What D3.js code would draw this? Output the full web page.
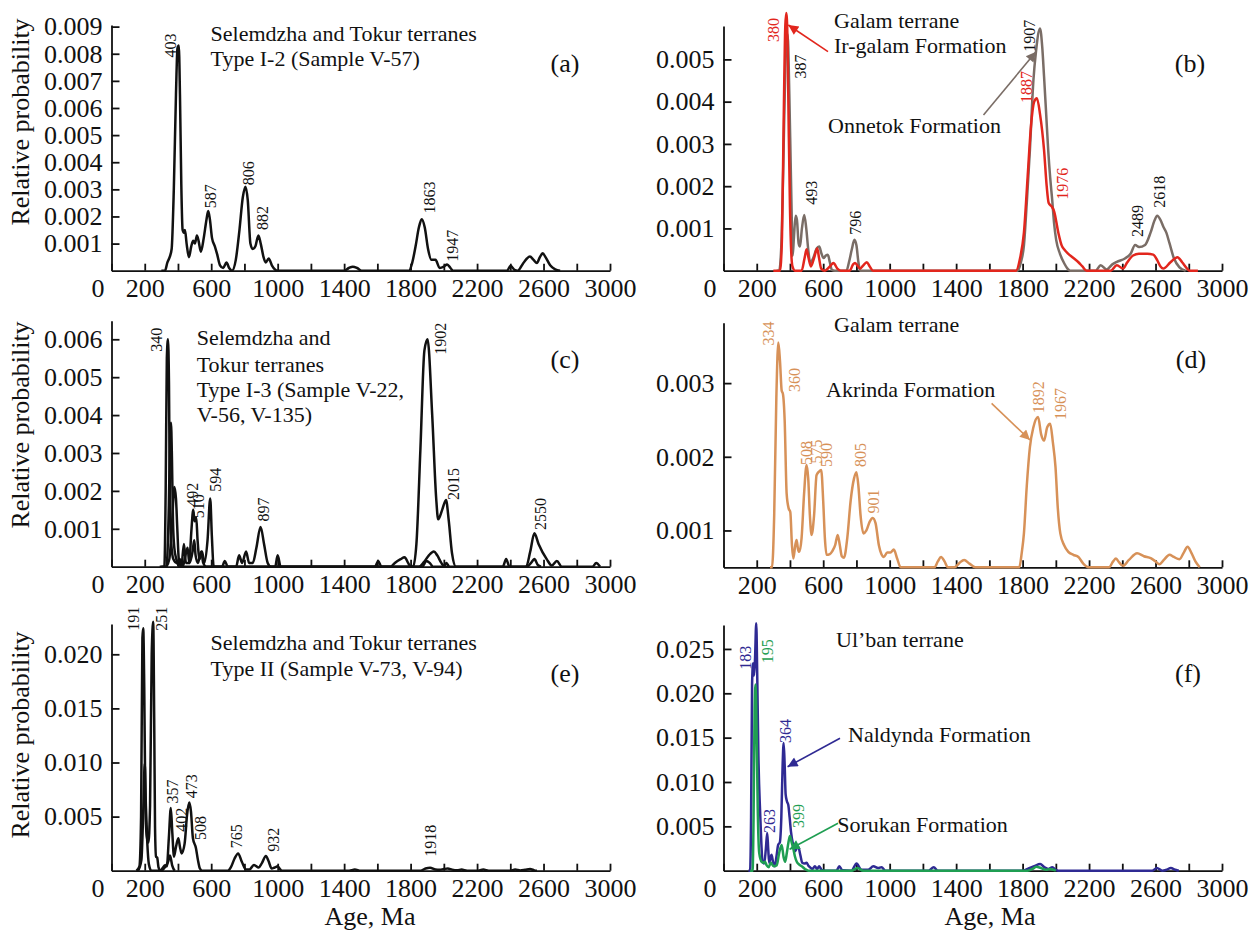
<!DOCTYPE html>
<html lang="en">
<head>
<meta charset="utf-8">
<title>Relative probability of detrital zircon ages</title>
<style>
  body { margin: 0; background: #fff; }
  svg text { font-family: "Liberation Serif", "Times New Roman", serif; fill: #111; }
  .axis path, .axis line { stroke: #111; stroke-width: 1.8; }
  .axis text { font-size: 26px; }
  .peak { font-size: 16px; }
  .note { font-size: 22px; }
  .letter { font-size: 26px; }
  .title { font-size: 26px; }
</style>
</head>
<body>
<svg id="chart" width="1250" height="931"></svg>
<script src="https://d3js.org/d3.v7.min.js"></script>
<script>
"use strict";

// x axis (age, Ma)
var ageTicks = [0, 200, 400, 600, 800, 1000, 1200, 1400, 1600, 1800, 2000, 2200, 2400, 2600, 2800, 3000];
var ageLabels = [0, 200, 600, 1000, 1400, 1800, 2200, 2600, 3000];

// y axis ticks per panel
var ticksA = [0.001, 0.002, 0.003, 0.004, 0.005, 0.006, 0.007, 0.008, 0.009];
var ticksB = [0.001, 0.002, 0.003, 0.004, 0.005];
var ticksC = [0.001, 0.002, 0.003, 0.004, 0.005, 0.006];
var ticksD = [0.001, 0.002, 0.003];
var ticksE = [0.005, 0.010, 0.015, 0.020];
var ticksF = [0.005, 0.010, 0.015, 0.020, 0.025];

// (a) Type I-2, sample V-57  [age, probability]
var curveA = [[300,0],[322,0],[336,0.0003],[350,0.0005],[362,0.0008],[375,0.003],[388,0.0065],[397,0.0082],[405,0.0083],[412,0.0065],[420,0.0032],[428,0.0015],[436,0.0014],[442,0.0015],[452,0.001],[466,0.0005],[480,0.0009],[492,0.0011],[502,0.001],[514,0.0013],[524,0.0011],[538,0.0007],[555,0.0012],[572,0.0019],[582,0.0022],[592,0.0019],[605,0.0012],[622,0.0009],[636,0.0006],[653,0.0002],[672,0.0001],[692,0.0003],[708,0.0001],[725,0],[748,0.0004],[770,0.0015],[790,0.0027],[806,0.0031],[820,0.0026],[836,0.001],[850,0.0008],[866,0.0009],[884,0.0013],[898,0.001],[915,0.0005],[928,0.0003],[946,0.00045],[965,0.0002],[1000,0],
  [1400,0],[1428,0.0001],[1452,0.00015],[1478,0.0001],[1505,0],
  [1790,0],[1810,0.0003],[1830,0.0009],[1850,0.0016],[1867,0.0019],[1885,0.0016],[1905,0.0008],[1925,0.0004],[1950,0.0004],[1975,0.0001],[2000,0.00015],[2020,0.00023],[2040,0.0001],[2055,0],
  [2380,0],[2402,0.00018],[2425,0.00003],[2445,0],[2475,0.00025],[2500,0.00045],[2518,0.00052],[2540,0.0004],[2560,0.00028],[2578,0.0005],[2595,0.00064],[2612,0.0005],[2640,0.0002],[2670,0.00005],[2700,0]];
var peaksA = [["403",357,0.00786],["587",597,0.0023],["806",824,0.00315],["882",907,0.0015],["1863",1912,0.00211],["1947",2051,0.00033]];

// (b) Galam terrane: Ir-galam Fm (red), Onnetok Fm (grey)
var irgalam = [[300,0],[340,0],[352,0.0008],[362,0.0035],[372,0.0058],[378,0.0061],[385,0.0055],[392,0.0035],[400,0.0015],[408,0.0004],[415,0.0001],[430,0],[470,0],[488,0.0003],[500,0.00051],[512,0.0003],[526,0.0001],[545,0.0003],[564,0.00053],[575,0.0003],[588,0.00005],[610,0],[640,0.0001],[662,0.00018],[685,0.00005],[705,0],[760,0],[780,0.00015],[792,0.00018],[810,0.0001],[822,0.00005],[840,0.00012],[862,0.0002],[880,0.0001],[900,0],
  [1760,0],[1785,0.0003],[1808,0.0009],[1830,0.0022],[1850,0.0034],[1870,0.004],[1886,0.00408],[1905,0.0037],[1929,0.00286],[1945,0.002],[1957,0.0016],[1975,0.00152],[1990,0.0014],[2015,0.0009],[2035,0.0006],[2051,0.0005],[2075,0.0004],[2100,0.00032],[2136,0.0002],[2160,0.0001],[2185,0],
  [2330,0],[2367,0.00013],[2404,0.00005],[2430,0.0002],[2465,0.00036],[2500,0.0004],[2550,0.0004],[2586,0.00038],[2610,0.00025],[2630,0.0001],[2647,0.00005],[2690,0.0002],[2732,0.00032],[2760,0.0002],[2790,0.00005],[2805,0],[2855,0]];
var onnetok = [[320,0],[335,0],[348,0.0006],[360,0.0025],[372,0.0048],[386,0.0056],[396,0.0042],[404,0.0026],[410,0.0014],[416,0.00035],[424,0.0008],[434,0.0013],[442,0.0012],[452,0.00065],[460,0.00057],[472,0.001],[486,0.00132],[498,0.001],[510,0.0005],[522,0.00018],[540,0.0003],[560,0.00052],[576,0.00057],[590,0.0004],[602,0.0003],[616,0.00036],[628,0.00038],[640,0.0002],[652,0.00002],[670,0],[740,0],[755,0.0002],[772,0.0005],[788,0.00073],[800,0.0006],[812,0.0002],[822,0],
  [1770,0],[1790,0.0002],[1808,0.0006],[1825,0.0016],[1844,0.00286],[1865,0.0045],[1881,0.0052],[1905,0.00573],[1918,0.0053],[1929,0.0046],[1942,0.0037],[1954,0.00286],[1966,0.0022],[1978,0.00168],[1990,0.0011],[2002,0.00073],[2025,0.0004],[2051,0.00017],[2070,0.00005],[2087,0],
  [2240,0],[2270,0.00013],[2306,0.00003],[2340,0.00015],[2367,0.00021],[2416,0.00029],[2450,0.0004],[2477,0.00061],[2501,0.00056],[2537,0.00061],[2570,0.0009],[2595,0.0012],[2610,0.0013],[2630,0.0012],[2647,0.00104],[2665,0.0009],[2684,0.00065],[2710,0.0003],[2744,0.00008],[2781,0]];
var peaksB = [["380",298,0.00541,"red"],["387",465,0.00455],["493",531,0.00156],["796",791,0.00085],["1907",1838,0.00518],["1887",1820,0.00397,"red"],["1976",2037,0.00168,"red"],["2489",2488,0.0008],["2618",2621,0.00149]];

// (c) Type I-3, samples V-22, V-56, V-135
var curveC1 = [[290,0],[318,0],[326,0.002],[333,0.0055],[340,0.006],[346,0.0048],[352,0.0015],[360,0.0006],[372,0.0002],[392,0.0001],[410,0.0002],[428,0],[445,0.0003],[458,0.0005],[468,0.0001],[480,0.0009],[492,0.0015],[500,0.0012],[510,0.0013],[518,0.0007],[530,0.0002],[545,0.0004],[558,0.0001],[578,0.0007],[594,0.0018],[604,0.0008],[615,0],[665,0],[682,0.00015],[700,0],[750,0],[768,0.0003],[786,0.0001],[810,0.0004],[828,0.0001],[850,0.0001],[872,0.0005],[897,0.00105],[918,0.0006],[940,0.0001],[960,0],[985,0],[1000,0.0003],[1018,0],
  [1585,0],[1605,0.00015],[1625,0],
  [1815,0],[1835,0.0006],[1859,0.0031],[1883,0.0057],[1902,0.006],[1930,0.004],[1954,0.0018],[1966,0.00125],[1990,0.0015],[2013,0.00176],[2030,0.0012],[2049,0.00036],[2073,0],
  [2355,0],[2375,0.0002],[2395,0],[2495,0],[2520,0.0004],[2545,0.00088],[2570,0.0006],[2619,0.0002],[2650,0.00003],[2680,0.00015],[2710,0],[2895,0],[2917,0.0001],[2940,0]];
var curveC2 = [[300,0],[330,0],[345,0.0016],[352,0.0033],[358,0.0038],[364,0.0028],[370,0.0012],[378,0.0005],[390,0.0002],[410,0],
  [1680,0],[1705,0.0001],[1740,0.0002],[1764,0.00025],[1785,0.0001],[1800,0],
  [1850,0],[1880,0.00012],[1910,0.0003],[1940,0.0004],[1960,0.0003],[1985,0.0001],[2005,0],
  [2500,0],[2525,0.0001],[2545,0.0002],[2565,0.00005],[2585,0]];
var curveC3 = [[330,0],[348,0.0002],[365,0.0012],[378,0.0021],[388,0.0018],[396,0.001],[405,0.0002],[420,0],[436,0.0006],[448,0.0001],[470,0.0001],[488,0.0004],[498,0.0007],[506,0.0003],[520,0.0001],[540,0.0004],[552,0.0001],[570,0],
  [1870,0],[1895,0.00015],[1915,0.0001],[1935,0],[2000,0],[2015,0.0001],[2030,0]];
var peaksC = [["340",272,0.00567],["492",485,0.00158],["510",525,0.00128],["594",628,0.00198],["897",915,0.00119],["1902",1977,0.00559],["2015",2055,0.00176],["2550",2581,0.00097]];

// (d) Galam terrane, Akrinda Formation
var akrinda = [[280,0.0005],[292,0.0005],[305,0.0012],[318,0.0028],[330,0.00355],[340,0.0033],[350,0.0029],[358,0.00285],[368,0.0025],[380,0.0015],[392,0.0013],[402,0.00125],[412,0.0008],[420,0.00062],[432,0.0008],[440,0.00087],[448,0.00075],[456,0.00071],[470,0.0009],[485,0.0015],[500,0.00189],[510,0.0017],[520,0.0012],[530,0.00094],[545,0.0012],[560,0.00175],[575,0.0018],[588,0.00182],[600,0.0014],[610,0.0009],[620,0.00067],[640,0.00068],[655,0.00072],[672,0.0008],[687,0.00094],[700,0.0008],[712,0.00065],[725,0.00063],[745,0.0009],[765,0.0014],[785,0.0017],[800,0.00179],[812,0.0016],[825,0.0012],[842,0.00096],[860,0.001],[880,0.00112],[898,0.00117],[915,0.0011],[935,0.0008],[950,0.00068],[965,0.00064],[985,0.0007],[1005,0.0007],[1025,0.00074],[1045,0.00062],[1066,0.0005],
  [1270,0.0005],[1290,0.00058],[1309,0.00064],[1330,0.00058],[1350,0.0005],[1390,0.0005],[1420,0.00056],[1448,0.0006],[1480,0.00055],[1516,0.0005],
  [1780,0.0005],[1795,0.0007],[1808,0.00096],[1825,0.0016],[1844,0.00213],[1865,0.0024],[1893,0.00254],[1912,0.0023],[1929,0.00222],[1948,0.0024],[1966,0.00245],[1982,0.0022],[1998,0.00186],[2012,0.0013],[2027,0.00096],[2050,0.0008],[2075,0.00071],[2105,0.00067],[2136,0.00064],[2165,0.00055],[2197,0.0005],
  [2320,0.0005],[2345,0.00058],[2362,0.00062],[2380,0.00057],[2404,0.00052],[2440,0.0006],[2489,0.00069],[2530,0.00065],[2574,0.00062],[2600,0.00058],[2623,0.00054],[2650,0.0006],[2684,0.00067],[2710,0.00064],[2744,0.00061],[2770,0.0007],[2793,0.00078],[2815,0.0007],[2840,0.00058],[2866,0.0005]];
var peaksD = [["334",270,0.00351],["360",424,0.00288],["508",500,0.00189],["575",561,0.00191],["590",621,0.00186],["805",821,0.00186],["901",901,0.00123],["1892",1898,0.00259],["1967",2025,0.0025]];

// (e) Type II, samples V-73, V-94
var curveE1 = [[150,0],[168,0.0004],[178,0.005],[186,0.0215],[191,0.0224],[197,0.017],[204,0.006],[212,0.0032],[222,0.0026],[232,0.006],[242,0.02],[251,0.023],[257,0.014],[262,0.004],[268,0.0013],[275,0.0012],[283,0.0003],[295,0],[310,0.0003],[322,0.0005],[333,0.0004],[345,0.003],[357,0.0058],[366,0.0035],[376,0.0013],[388,0.0022],[402,0.003],[412,0.0022],[422,0.0016],[440,0.0025],[455,0.0052],[468,0.0063],[478,0.0055],[490,0.003],[508,0.0021],[520,0.001],[532,0.0002],[545,0],
  [700,0],[718,0.0003],[740,0.0011],[762,0.0016],[785,0.0008],[810,0.0001],[830,0.0001],[857,0.00053],[886,0.0003],[905,0.0007],[929,0.00136],[945,0.0009],[964,0.0002],[982,0.0003],[1000,0.0004],[1012,0.0002],[1025,0],
  [1430,0],[1464,0.0001],[1500,0],[1860,0],[1890,0.0002],[1917,0.00028],[1950,0.0001],[1975,0.00008],[2000,0.00015],[2024,0.0002],[2050,0.0001],[2080,0.00005],[2107,0.0001],[2140,0],[2200,0],[2238,0.0001],[2270,0],[2400,0],[2429,0.0001],[2460,0.00002],[2490,0.00008],[2519,0.00015],[2545,0.00003],[2560,0]];
var curveE2 = [[160,0],[180,0.001],[192,0.006],[200,0.0099],[207,0.006],[215,0.0027],[225,0.0006],[240,0],[300,0],[320,0.0003],[340,0.0008],[352,0.0014],[365,0.0005],[380,0]];
var peaksE = [["191",131,0.02217],["251",302,0.02217],["357",364,0.00622],["402",418,0.0036],["473",480,0.00669],["508",532,0.00284],["765",753,0.00207],["932",972,0.00175],["1918",1922,0.0013]];

// (f) Ul'ban terrane: Naldynda Fm (navy), Sorukan Fm (green)
var naldynda = [[150,0],[160,0],[166,0.006],[172,0.021],[178,0.0234],[184,0.022],[190,0.024],[197,0.0279],[203,0.022],[210,0.013],[221,0.0063],[228,0.003],[235,0.001],[245,0.0008],[255,0.0025],[263,0.00425],[269,0.0025],[275,0.0009],[282,0.0014],[289,0.0018],[298,0.001],[309,0.0005],[318,0.0015],[329,0.0029],[339,0.0032],[348,0.006],[356,0.012],[362,0.0144],[368,0.012],[374,0.0086],[382,0.0078],[390,0.0074],[398,0.006],[406,0.0044],[418,0.003],[430,0.0022],[440,0.0025],[450,0.0027],[462,0.0018],[474,0.0009],[488,0.0008],[500,0.0009],[510,0.0006],[520,0.0004],[535,0.0002],[550,0.0005],[563,0.0002],[576,0.0005],[590,0.0001],[610,0],[680,0],[697,0.0005],[715,0.00005],[770,0],[801,0.0008],[830,0.0001],[870,0.0001],[902,0.0005],[930,0.0003],[951,0.0004],[975,0],
  [1235,0],[1265,0.0004],[1290,0],[1800,0],[1830,0.0002],[1870,0.0005],[1906,0.00075],[1930,0.0004],[1955,0.0002],[1979,0.0004],[2000,0.0001],[2015,0],
  [2580,0],[2608,0.0003],[2640,0],[2665,0.0001],[2692,0.0003],[2720,0.0001],[2740,0]];
var sorukan = [[160,0],[175,0],[181,0.006],[187,0.018],[193,0.021],[199,0.016],[206,0.007],[215,0.002],[230,0.001],[240,0.0009],[250,0.001],[260,0.0006],[272,0.0004],[285,0.0009],[301,0.0005],[320,0.0006],[335,0.002],[350,0.0029],[362,0.0015],[371,0.001],[381,0.002],[391,0.0032],[400,0.0039],[410,0.0032],[420,0.0025],[430,0.0016],[441,0.001],[455,0.0007],[471,0.0005],[490,0.0002],[511,0],[770,0],[806,0.0003],[840,0],[1830,0],[1860,0.0002],[1882,0.00045],[1910,0.0003],[1942,0.0001],[1965,0.0002],[1985,0.0001],[2000,0]];
var peaksF = [["183",129,0.02266,"navy"],["195",262,0.0234,"green"],["364",372,0.0144,"navy"],["263",278,0.00425,"navy"],["399",450,0.0048,"green"]];

var COL = { black: "#111111", red: "#e2261d", grey: "#7a6d66", tan: "#d79158", navy: "#2f2a93", green: "#1f9e52" };

var svg = d3.select("#chart");
svg.append("rect").attr("width", 1250).attr("height", 931).attr("fill", "#fff");

var defs = svg.append("defs");
["red", "grey", "tan", "navy", "green"].forEach(function(k) {
  defs.append("marker")
    .attr("id", "arr-" + k)
    .attr("viewBox", "0 0 10 10")
    .attr("refX", 10).attr("refY", 5)
    .attr("markerUnits", "userSpaceOnUse")
    .attr("markerWidth", 15).attr("markerHeight", 10)
    .attr("orient", "auto")
    .append("path").attr("d", "M0,0 L10,5 L0,10 Z").attr("fill", COL[k]);
});

var panels = [
  { left: 111.5, right: 610, top: 25, bottom: 270.7, ymin: 0, ymax: 0.00906, yTicks: ticksA, zero: true,
    series: [{ d: curveA, c: "black" }], peaks: peaksA, peakCol: "black",
    notes: [["Selemdzha and Tokur terranes", 210.6, 40.7], ["Type I-2 (Sample V-57)", 210.6, 65.7]],
    letter: ["(a)", 565, 72], ytitle: 122 },
  { left: 723.5, right: 1222, top: 26, bottom: 270.7, ymin: 0, ymax: 0.00579, yTicks: ticksB, zero: true,
    series: [{ d: onnetok, c: "grey" }, { d: irgalam, c: "red" }], peaks: peaksB, peakCol: "black",
    notes: [["Galam terrane", 834, 28.3], ["Ir-galam Formation", 834, 53.3], ["Onnetok Formation", 828, 133.3]],
    arrows: [[828, 51.7, 788.3, 25, "red"], [983.5, 115, 1036, 51.7, "grey"]],
    letter: ["(b)", 1190, 71.7] },
  { left: 111.5, right: 610, top: 320.7, bottom: 566.7, ymin: 0, ymax: 0.00649, yTicks: ticksC, zero: true,
    series: [{ d: curveC3, c: "black" }, { d: curveC2, c: "black" }, { d: curveC1, c: "black" }], peaks: peaksC, peakCol: "black",
    notes: [["Selemdzha and", 196.7, 345], ["Tokur terranes", 196.7, 371.7], ["Type I-3 (Sample V-22,", 196.7, 396.7], ["V-56, V-135)", 196.7, 421.7]],
    letter: ["(c)", 565, 368.3], ytitle: 425 },
  { left: 723.5, right: 1222, top: 322.7, bottom: 567.3, ymin: 0.0005, ymax: 0.00382, yTicks: ticksD, zero: false,
    series: [{ d: akrinda, c: "tan" }], peaks: peaksD, peakCol: "tan",
    notes: [["Galam terrane", 834, 331.7], ["Akrinda Formation", 826, 396.7]],
    arrows: [[991.6, 403.3, 1030, 440, "tan"]],
    letter: ["(d)", 1191, 368.3] },
  { left: 111.5, right: 610, top: 624, bottom: 870.7, ymin: 0, ymax: 0.0228, yTicks: ticksE, zero: true,
    series: [{ d: curveE2, c: "black" }, { d: curveE1, c: "black" }], peaks: peaksE, peakCol: "black",
    notes: [["Selemdzha and Tokur terranes", 210.6, 650], ["Type II (Sample V-73, V-94)", 210.6, 676]],
    letter: ["(e)", 565, 681.7], ytitle: 735, xtitle: 370 },
  { left: 723.5, right: 1222, top: 625, bottom: 870.7, ymin: 0, ymax: 0.0277, yTicks: ticksF, zero: true,
    series: [{ d: naldynda, c: "navy" }, { d: sorukan, c: "green" }], peaks: peaksF, peakCol: "navy",
    notes: [["Ul\u2019ban terrane", 836, 646.7], ["Naldynda Formation", 848, 741.7], ["Sorukan Formation", 837.3, 831.7]],
    arrows: [[840, 738.3, 787.6, 766.7, "navy"], [838, 823.3, 789.6, 849.3, "green"]],
    letter: ["(f)", 1188, 681.7], xtitle: 990 }
];

panels.forEach(drawPanel);

function drawPanel(p) {
  var x = d3.scaleLinear().domain([0, 3000]).range([p.left, p.right]);
  var y = d3.scaleLinear().domain([p.ymin, p.ymax]).range([p.bottom, p.top]);
  var g = svg.append("g");

  var xa = g.append("g").attr("class", "axis")
    .attr("transform", "translate(0," + p.bottom + ")")
    .call(d3.axisBottom(x).tickValues(ageTicks).tickSize(-7).tickSizeOuter(0).tickPadding(8)
      .tickFormat(function(d) { return (ageLabels.indexOf(d) >= 0 && (d > 0 || p.zero)) ? d : ""; }));
  xa.selectAll(".tick").filter(function(d) { return d === 0; }).select("text").attr("x", -14);

  g.append("g").attr("class", "axis")
    .attr("transform", "translate(" + p.left + ",0)")
    .call(d3.axisLeft(y).tickValues(p.yTicks).tickSize(-8).tickSizeOuter(0).tickPadding(9)
      .tickFormat(d3.format(".3f")));

  var line = d3.line()
    .x(function(d) { return x(d[0]); })
    .y(function(d) { return y(d[1]); })
    .curve(d3.curveMonotoneX);

  p.series.forEach(function(s) {
    g.append("path").attr("d", line(s.d))
      .attr("fill", "none").attr("stroke", COL[s.c])
      .attr("stroke-width", 2.5).attr("stroke-linejoin", "round");
  });

  g.selectAll(".peak").data(p.peaks).join("text")
    .attr("class", "peak")
    .attr("transform", function(d) { return "translate(" + x(d[1]) + "," + y(d[2]) + ") rotate(-90)"; })
    .attr("dy", "0.35em")
    .style("fill", function(d) { return COL[d[3] || p.peakCol]; })
    .text(function(d) { return d[0]; });

  p.notes.forEach(function(n) {
    g.append("text").attr("class", "note").attr("x", n[1]).attr("y", n[2]).text(n[0]);
  });

  (p.arrows || []).forEach(function(a) {
    g.append("line")
      .attr("x1", a[0]).attr("y1", a[1]).attr("x2", a[2]).attr("y2", a[3])
      .attr("stroke", COL[a[4]]).attr("stroke-width", 1.6)
      .attr("marker-end", "url(#arr-" + a[4] + ")");
  });

  g.append("text").attr("class", "letter")
    .attr("x", p.letter[1]).attr("y", p.letter[2])
    .attr("text-anchor", "middle").text(p.letter[0]);

  if (p.ytitle) {
    g.append("text").attr("class", "title")
      .attr("transform", "translate(29," + p.ytitle + ") rotate(-90)")
      .attr("text-anchor", "middle").text("Relative probability");
  }
  if (p.xtitle) {
    g.append("text").attr("class", "title")
      .attr("x", p.xtitle).attr("y", 925)
      .attr("text-anchor", "middle").text("Age, Ma");
  }
}
</script>
</body>
</html>
